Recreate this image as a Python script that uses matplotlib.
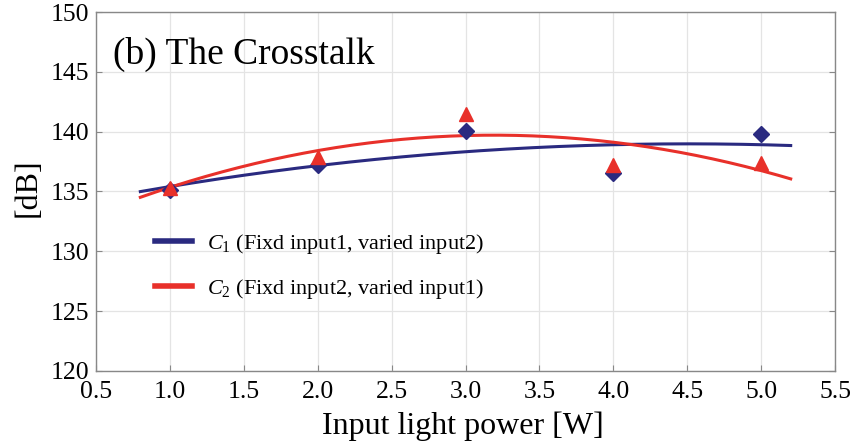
import numpy as np
import matplotlib
matplotlib.use("Agg")
import matplotlib.pyplot as plt

plt.rcParams['font.family'] = ['Liberation Serif', 'DejaVu Serif']
plt.rcParams['mathtext.fontset'] = 'custom'
plt.rcParams['mathtext.rm'] = 'Liberation Serif'
plt.rcParams['mathtext.it'] = 'Liberation Serif:italic'

x_points = [1.0, 2.0, 3.0, 4.0, 5.0]
c1_values = [135.1, 137.2, 140.06, 136.55, 139.8]
c2_values = [135.3, 137.9, 141.5, 137.2, 137.4]
fit_range = [0.8, 5.2]
x_ticks = [0.5, 1.0, 1.5, 2.0, 2.5, 3.0, 3.5, 4.0, 4.5, 5.0, 5.5]
y_ticks = [120, 125, 130, 135, 140, 145, 150]

blue = '#2A2A80'
red = '#E8302A'

fig = plt.figure(figsize=(8.54, 4.48), dpi=100)
ax = fig.add_axes([0.1124, 0.1719, 0.8654, 0.8013])

xf = np.linspace(fit_range[0], fit_range[1], 200)
p1 = np.polyfit(x_points, c1_values, 2)
p2 = np.polyfit(x_points, c2_values, 2)

ax.plot(xf, np.polyval(p1, xf), color=blue, lw=2.2, label=r'$C_1$ (Fixd input1, varied input2)')
ax.plot(xf, np.polyval(p2, xf), color=red, lw=2.2, label=r'$C_2$ (Fixd input2, varied input1)')
ax.plot(x_points, c1_values, 'D', color=blue, ms=8.5, ls='none')
ax.plot(x_points, c2_values, '^', color=red, ms=10, ls='none')

ax.set_xlim(0.5, 5.5)
ax.set_ylim(120, 150)
ax.set_xticks(x_ticks)
ax.set_xticklabels([f'{v:.1f}' for v in x_ticks])
ax.set_yticks(y_ticks)
ax.tick_params(direction='in', labelsize=18.5, length=4, color='#888888', right=True, top=False)
ax.tick_params(axis='y', pad=5)
ax.tick_params(axis='x', pad=7)
ax.grid(True, color='#e4e4e4', lw=0.9)
ax.set_axisbelow(True)
for s in ax.spines.values():
    s.set_color('#888888')
    s.set_linewidth(1.0)

ax.set_xlabel('Input light power [W]', fontsize=23)
ax.xaxis.label.set_va('baseline')
ax.xaxis.set_label_coords(0.497, -0.1755)
ax.set_ylabel('[dB]', fontsize=23)
ax.yaxis.label.set_va('center')
ax.yaxis.set_label_coords(-0.092, 0.51)

ax.text(0.615, 145.66, '(b) The Crosstalk', fontsize=27, va='baseline', ha='left')

leg = ax.legend(loc='center left', bbox_to_anchor=(0.08, 0.291), frameon=False, fontsize=16,
                handlelength=1.67, handletextpad=0.68, labelspacing=0.95,
                borderpad=0, borderaxespad=0)
for line in leg.get_lines():
    line.set_linewidth(4)

fig.savefig('out.png', dpi=100)
